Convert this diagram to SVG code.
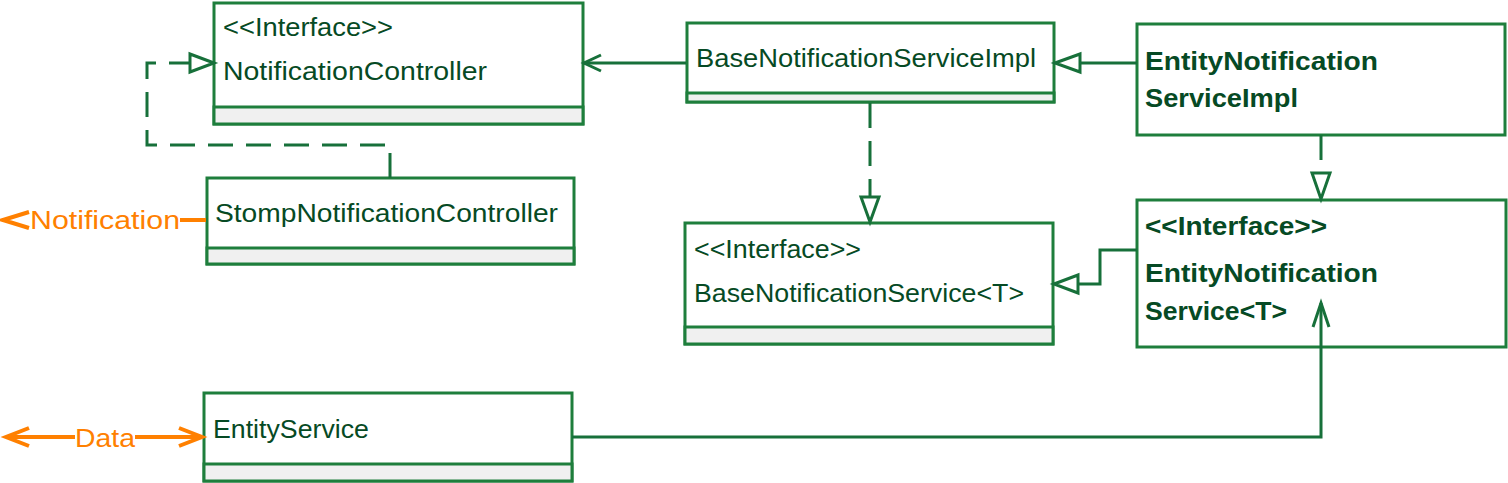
<svg xmlns="http://www.w3.org/2000/svg" width="1508" height="483" viewBox="0 0 1508 483">
<style>
.box{fill:#ffffff;stroke:#1e7e3c;stroke-width:3}
.comp{fill:#f0f0f0;stroke:#1e7e3c;stroke-width:3}
.t{font-family:"Liberation Sans",Arial,sans-serif;font-size:25.5px;fill:#064a24}
.b{font-family:"Liberation Sans",Arial,sans-serif;font-size:26.5px;font-weight:bold;fill:#064a24}
.o{font-family:"Liberation Sans",Arial,sans-serif;font-size:26px;fill:#ff8000}
.ln{fill:none;stroke:#17703a;stroke-width:3}
.dash{fill:none;stroke:#17703a;stroke-width:3;stroke-dasharray:25 13}
.tri{fill:#ffffff;stroke:#17703a;stroke-width:3;stroke-linejoin:miter}
.ol{fill:none;stroke:#ff8000;stroke-width:4}
</style>
<g id="node-notification-controller">
  <rect class="box" x="214" y="3" width="369" height="121"/>
  <rect class="comp" x="214" y="107" width="369" height="17"/>
  <text class="t" x="223" y="36" textLength="170" lengthAdjust="spacingAndGlyphs">&lt;&lt;Interface&gt;&gt;</text>
  <text class="t" x="223" y="80" textLength="264" lengthAdjust="spacingAndGlyphs">NotificationController</text>
</g>
<g id="node-stomp-notification-controller">
  <rect class="box" x="207" y="178" width="367" height="86"/>
  <rect class="comp" x="207" y="248" width="367" height="16"/>
  <text class="t" x="215" y="222" textLength="343" lengthAdjust="spacingAndGlyphs">StompNotificationController</text>
</g>
<g id="node-base-notification-service-impl">
  <rect class="box" x="687" y="23" width="367" height="79"/>
  <rect class="comp" x="687" y="93" width="367" height="9"/>
  <text class="t" x="696" y="67" textLength="340" lengthAdjust="spacingAndGlyphs">BaseNotificationServiceImpl</text>
</g>
<g id="node-entity-notification-service-impl">
  <rect class="box" x="1137" y="24" width="368" height="111"/>
  <text class="b" x="1145" y="70" textLength="233" lengthAdjust="spacingAndGlyphs">EntityNotification</text>
  <text class="b" x="1145" y="107" textLength="153" lengthAdjust="spacingAndGlyphs">ServiceImpl</text>
</g>
<g id="node-base-notification-service">
  <rect class="box" x="685" y="223" width="368" height="121"/>
  <rect class="comp" x="685" y="327" width="368" height="17"/>
  <text class="t" x="694" y="258" textLength="167" lengthAdjust="spacingAndGlyphs">&lt;&lt;Interface&gt;&gt;</text>
  <text class="t" x="694" y="302" textLength="330" lengthAdjust="spacingAndGlyphs">BaseNotificationService&lt;T&gt;</text>
</g>
<g id="node-entity-notification-service">
  <rect class="box" x="1137" y="200" width="369" height="147"/>
  <text class="b" x="1145" y="235" textLength="182" lengthAdjust="spacingAndGlyphs">&lt;&lt;Interface&gt;&gt;</text>
  <text class="b" x="1145" y="282" textLength="233" lengthAdjust="spacingAndGlyphs">EntityNotification</text>
  <text class="b" x="1145" y="320" textLength="142" lengthAdjust="spacingAndGlyphs">Service&lt;T&gt;</text>
</g>
<g id="node-entity-service">
  <rect class="box" x="204" y="393" width="368" height="88"/>
  <rect class="comp" x="204" y="464" width="368" height="17"/>
  <text class="t" x="213" y="438" textLength="156" lengthAdjust="spacingAndGlyphs">EntityService</text>
</g>
<g id="label-notification">
  <text class="o" x="30" y="229" textLength="150" lengthAdjust="spacingAndGlyphs">Notification</text>
</g>
<g id="label-data">
  <text class="o" x="75" y="447" textLength="60" lengthAdjust="spacingAndGlyphs">Data</text>
</g>
<g id="connectors">
  <path class="dash" d="M390,178 L390,145 L147,145 L147,63 L190,63"/>
  <polygon class="tri" points="214,63 190,54 190,72"/>
  <path class="ln" d="M686,63 L584,63"/>
  <path class="ln" d="M601,55 L584,63 L601,71"/>
  <path class="ln" d="M1137,63 L1080,63"/>
  <polygon class="tri" points="1055,63 1080,54 1080,72"/>
  <path class="dash" d="M870,103 L870,197"/>
  <polygon class="tri" points="870,222 861,197 879,197"/>
  <path class="dash" d="M1321,135 L1321,173"/>
  <polygon class="tri" points="1321,199 1312,173 1330,173"/>
  <path class="ln" d="M1137,250 L1100,250 L1100,284 L1078,284"/>
  <polygon class="tri" points="1054,284 1078,275 1078,293"/>
  <path class="ln" d="M572,437 L1321,437 L1321,303"/>
  <path class="ln" d="M1313,327 L1321,303 L1329,327"/>
  <path class="ol" d="M180,220 L206,220"/>
  <path class="ol" d="M29,212 L3,220 L29,228"/>
  <path class="ol" d="M6,437 L75,437 M135,437 L202,437"/>
  <path class="ol" d="M29,428 L6,437 L29,446"/>
  <path class="ol" d="M179,428 L202,437 L179,446"/>
</g>
</svg>
